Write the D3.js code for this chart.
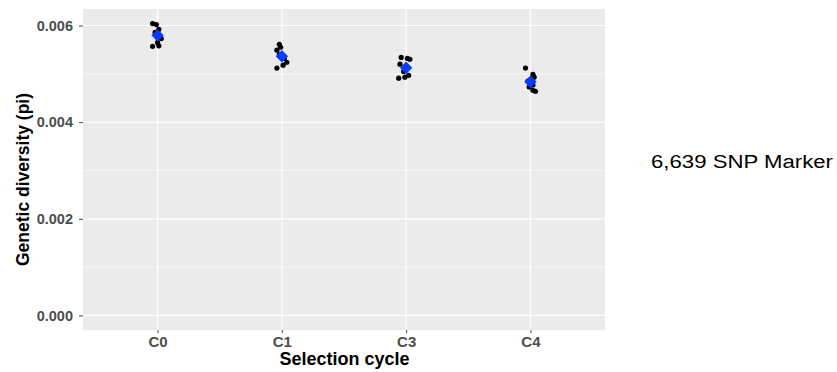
<!DOCTYPE html>
<html>
<head>
<meta charset="utf-8">
<script src="https://cdn.jsdelivr.net/npm/d3@7"></script>
<style>
  body { margin: 0; background: #fff; }
  svg { display: block; font-family: "Liberation Sans", Arial, sans-serif; }
</style>
</head>
<body>
<svg id="chart" width="837" height="372"></svg>
<script>
// ---- data ----
const categories = ["C0", "C1", "C3", "C4"];
const C0 = [0.00604, 0.00602, 0.00592, 0.00586, 0.00573, 0.00565, 0.00557, 0.00558];
const C1 = [0.00561, 0.00555, 0.00549, 0.00540, 0.00532, 0.00524, 0.00518, 0.00512];
const C3 = [0.00534, 0.00532, 0.00530, 0.00520, 0.00505, 0.00497, 0.00493, 0.00491];
const C4 = [0.00512, 0.00499, 0.00493, 0.00485, 0.00477, 0.00473, 0.00466, 0.00464];
// jitter (fraction of one category step), as seen in the plot
const jitterC0 = [-0.04, -0.01, 0.01, -0.02, 0.03, 0.00, -0.04, 0.01];
const jitterC1 = [-0.02, -0.01, -0.04, -0.02, 0.02, 0.04, 0.01, -0.04];
const jitterC3 = [-0.04, 0.01, 0.03, -0.05, -0.02, 0.02, -0.01, -0.06];
const jitterC4 = [-0.04, 0.02, 0.03, -0.02, 0.02, -0.01, 0.02, 0.04];
const yTicks = [0, 0.002, 0.004, 0.006];
const yMinor = [0.001, 0.003, 0.005];
const annotation = "6,639 SNP Marker";

const groups = [C0, C1, C3, C4];
const jitters = [jitterC0, jitterC1, jitterC3, jitterC4];

// ---- layout ----
const svg = d3.select("#chart");
const L = 83, R = 605, T = 9, B = 330;

const x = d3.scalePoint().domain(categories).range([L, R]).padding(0.6);
const step = x.step();
const yMaxData = d3.max(groups.flat());
const pad = yMaxData * 0.05;
const y = d3.scaleLinear().domain([0 - pad, yMaxData + pad]).range([B, T]);

// panel
svg.append("rect").attr("x", L).attr("y", T).attr("width", R - L).attr("height", B - T).attr("fill", "#ebebeb");

// minor grid
svg.append("g").selectAll("line").data(yMinor).join("line")
  .attr("x1", L).attr("x2", R).attr("y1", d => y(d)).attr("y2", d => y(d))
  .attr("stroke", "#fff").attr("stroke-width", 0.6);
// major grid
svg.append("g").selectAll("line").data(yTicks).join("line")
  .attr("x1", L).attr("x2", R).attr("y1", d => y(d)).attr("y2", d => y(d))
  .attr("stroke", "#fff").attr("stroke-width", 1.2);
svg.append("g").selectAll("line").data(categories).join("line")
  .attr("x1", d => x(d)).attr("x2", d => x(d)).attr("y1", T).attr("y2", B)
  .attr("stroke", "#fff").attr("stroke-width", 1.2);

// axes
const yAxis = d3.axisLeft(y).tickValues(yTicks).tickFormat(d3.format(".3f")).tickSize(4).tickPadding(6);
const gy = svg.append("g").attr("transform", `translate(${L},0)`).call(yAxis);
gy.select(".domain").remove();
gy.selectAll("line").attr("stroke", "#444").attr("stroke-width", 1);
gy.selectAll("text").attr("fill", "#4d4d4d").attr("font-size", 14.5).attr("font-weight", "bold")
  .attr("font-family", "Liberation Sans, Arial, sans-serif");

const xAxis = d3.axisBottom(x).tickSize(3).tickPadding(3);
const gx = svg.append("g").attr("transform", `translate(0,${B})`).call(xAxis);
gx.select(".domain").remove();
gx.selectAll("line").attr("stroke", "#444").attr("stroke-width", 1);
gx.selectAll("text").attr("fill", "#4d4d4d").attr("font-size", 15).attr("font-weight", "bold")
  .attr("font-family", "Liberation Sans, Arial, sans-serif");

// points
const pts = [];
groups.forEach((vals, gi) => vals.forEach((v, i) => pts.push({ c: categories[gi], v, j: jitters[gi][i] })));
svg.append("g").selectAll("circle").data(pts).join("circle")
  .attr("cx", d => x(d.c) + d.j * step)
  .attr("cy", d => y(d.v))
  .attr("r", 2.6)
  .attr("fill", "#000");

// means (blue diamonds)
const means = categories.map((c, i) => ({ c, m: d3.mean(groups[i]) }));
const h = 6.2;
svg.append("g").selectAll("path").data(means).join("path")
  .attr("d", d => {
    const cx = x(d.c), cy = y(d.m);
    return `M${cx},${cy - h}L${cx + h},${cy}L${cx},${cy + h}L${cx - h},${cy}Z`;
  })
  .attr("fill", "#0a3cff");

// axis titles
svg.append("text")
  .attr("x", (L + R) / 2 + 0.5).attr("y", 365)
  .attr("text-anchor", "middle")
  .attr("font-size", 18).attr("font-weight", "bold").attr("fill", "#000")
  .text("Selection cycle");

svg.append("text")
  .attr("transform", `translate(29,${(T + B) / 2 + 10}) rotate(-90)`)
  .attr("text-anchor", "middle")
  .attr("font-size", 17.5).attr("font-weight", "bold").attr("fill", "#000")
  .text("Genetic diversity (pi)");

// annotation
svg.append("text")
  .attr("x", 651).attr("y", 168)
  .attr("font-size", 18).attr("fill", "#000")
  .attr("textLength", 182).attr("lengthAdjust", "spacingAndGlyphs")
  .text(annotation);
</script>
</body>
</html>
